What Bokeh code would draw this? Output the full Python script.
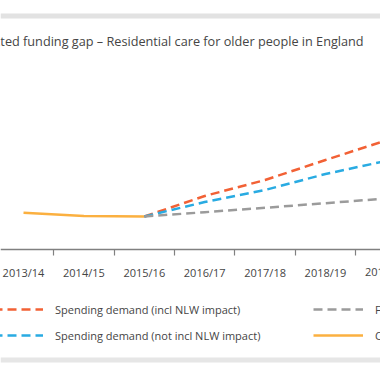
from bokeh.plotting import figure
from bokeh.models import Range1d, FixedTicker, Legend, LegendItem, Label, BoxAnnotation
from bokeh.embed import file_html
from bokeh.resources import INLINE

years = ["2013/14", "2014/15", "2015/16", "2016/17", "2017/18", "2018/19", "2019/20"]
current_years = years[:3]
proj_years = years[2:]
current_spend = [3.67, 3.36, 3.30]
demand_incl_nlw = [3.30, 5.35, 6.95, 8.95, 10.90]
demand_not_incl_nlw = [3.30, 4.75, 5.95, 7.55, 8.85]
funding = [3.30, 3.73, 4.17, 4.63, 5.10]

title_text = "Projected funding gap \u2013 Residential care for older people in England"
labels = ["Spending demand (incl NLW impact)",
          "Spending demand (not incl NLW impact)",
          "Funding",
          "Current spending"]

RED = "#f26135"
BLUE = "#29abe2"
GREY = "#9b9b9b"
ORANGE = "#fbb040"
TXT = "#454545"
FONT = "Open Sans"

idx = {y: i for i, y in enumerate(years)}
xc = [idx[y] for y in current_years]
xp = [idx[y] for y in proj_years]

p = figure(width=380, height=380, output_backend="svg", toolbar_location=None, title=None,
           x_range=Range1d(-0.381, 5.911), y_range=Range1d(-13.1, 24.9),
           y_axis_location=None,
           min_border_left=0, min_border_right=0, min_border_top=0, min_border_bottom=0)
p.outline_line_color = None
p.xgrid.visible = False
p.ygrid.visible = False

r_orange = p.line(xc, current_spend, line_color=ORANGE, line_width=2.5)
r_red = p.line(xp, demand_incl_nlw, line_color=RED, line_width=2.5, line_dash="9 5")
r_blue = p.line(xp, demand_not_incl_nlw, line_color=BLUE, line_width=2.5, line_dash="9 5")
r_grey = p.line(xp, funding, line_color=GREY, line_width=2.5, line_dash="9 5")

ax = p.xaxis[0]
ax.fixed_location = 0
ax.ticker = FixedTicker(ticks=list(range(len(years))),
                        minor_ticks=[i + 0.5 for i in range(-1, len(years))])
ax.major_label_overrides = {i: y for i, y in enumerate(years)}
ax.major_tick_out = 0
ax.major_tick_in = 0
ax.minor_tick_out = 6
ax.minor_tick_in = 0
ax.minor_tick_line_color = "#808080"
ax.minor_tick_line_width = 1.2
ax.axis_line_color = "#808080"
ax.axis_line_width = 1.7
ax.major_label_standoff = 9
ax.major_label_text_font = FONT
ax.major_label_text_font_size = "11px"
ax.major_label_text_color = TXT

# last category label lies beyond the visible range edge (partly shown in the crop)
p.add_layout(Label(x=idx[years[-1]], y=0, text=years[-1], y_offset=-22,
                   text_align="center", text_baseline="middle", text_font=FONT,
                   text_font_size="11px", text_color=TXT))


def make_legend(items, loc):
    return Legend(items=items, location=loc, orientation="vertical",
                  glyph_width=50, glyph_height=16, label_height=16,
                  spacing=10, padding=0, margin=0, border_line_color=None,
                  background_fill_alpha=0, label_standoff=12,
                  label_text_font=FONT, label_text_font_size="11px",
                  label_text_color=TXT)


p.add_layout(make_legend([LegendItem(label=labels[0], renderers=[r_red]),
                          LegendItem(label=labels[1], renderers=[r_blue])], (-7, 37)))
p.add_layout(make_legend([LegendItem(label=labels[2], renderers=[r_grey]),
                          LegendItem(label=labels[3], renderers=[r_orange])], (313, 37)))

p.add_layout(Label(x=-37, y=340, x_units="screen", y_units="screen", text=title_text,
                   text_baseline="middle", text_font=FONT, text_font_size="12.7px",
                   text_color=TXT))

p.add_layout(BoxAnnotation(top=367, bottom=362, top_units="screen", bottom_units="screen",
                           fill_color="#e2e2e2", fill_alpha=1, line_alpha=0))
p.add_layout(BoxAnnotation(top=23, bottom=18, top_units="screen", bottom_units="screen",
                           fill_color="#e6e6e6", fill_alpha=1, line_alpha=0))

open("out.html", "w").write(file_html(p, INLINE))
